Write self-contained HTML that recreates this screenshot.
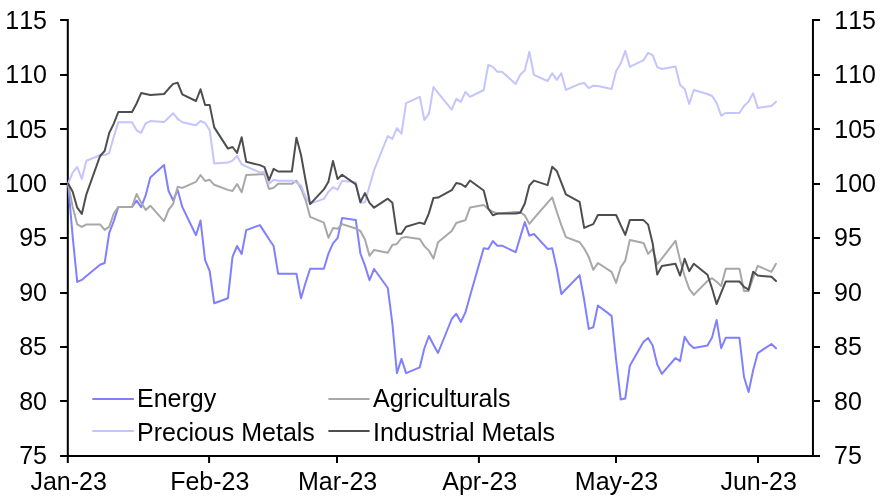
<!DOCTYPE html>
<html><head><meta charset="utf-8"><title>Commodity prices</title>
<style>
html,body{margin:0;padding:0;background:#fff;}
body{width:885px;height:498px;overflow:hidden;}
svg{display:block;}
text{font-family:"Liberation Sans",Arial,Helvetica,sans-serif;font-size:25px;fill:#000;font-kerning:none;}
.ln{fill:none;stroke-width:2;stroke-linejoin:round;stroke-linecap:butt;}
.dl{stroke-linecap:round;}
.ax{stroke:#000;stroke-width:2;fill:none;}
</style></head><body>
<svg width="885" height="498" viewBox="0 0 885 498">
<rect width="885" height="498" fill="#fff"/>
<path class="ax" d="M67.8,19 V463 M812.95,19 V457 M60.10,456 H820.05"/>
<path class="ax" d="M60.10,20 H67.8 M812.95,20 H820.05"/>
<text x="47" y="28.5" text-anchor="end">115</text>
<text x="834.3" y="28.5" text-anchor="start">115</text>
<path class="ax" d="M60.10,75 H67.8 M812.95,75 H820.05"/>
<text x="47" y="82.6" text-anchor="end">110</text>
<text x="834.3" y="82.6" text-anchor="start">110</text>
<path class="ax" d="M60.10,129 H67.8 M812.95,129 H820.05"/>
<text x="47" y="137.6" text-anchor="end">105</text>
<text x="834.3" y="137.6" text-anchor="start">105</text>
<path class="ax" d="M60.10,184 H67.8 M812.95,184 H820.05"/>
<text x="47" y="191.7" text-anchor="end">100</text>
<text x="834.3" y="191.7" text-anchor="start">100</text>
<path class="ax" d="M60.10,238 H67.8 M812.95,238 H820.05"/>
<text x="47" y="245.9" text-anchor="end">95</text>
<text x="834" y="245.9" text-anchor="start">95</text>
<path class="ax" d="M60.10,293 H67.8 M812.95,293 H820.05"/>
<text x="47" y="300.7" text-anchor="end">90</text>
<text x="834" y="300.7" text-anchor="start">90</text>
<path class="ax" d="M60.10,347 H67.8 M812.95,347 H820.05"/>
<text x="47" y="354.7" text-anchor="end">85</text>
<text x="834" y="354.7" text-anchor="start">85</text>
<path class="ax" d="M60.10,401 H67.8 M812.95,401 H820.05"/>
<text x="47" y="409.7" text-anchor="end">80</text>
<text x="834" y="409.7" text-anchor="start">80</text>
<text x="47" y="463.6" text-anchor="end">75</text>
<text x="834" y="463.6" text-anchor="start">75</text>
<text x="68.65" y="489.65" text-anchor="middle">Jan-23</text>
<path class="ax" d="M209.1,456 V463"/>
<text x="209.80" y="489.65" text-anchor="middle">Feb-23</text>
<path class="ax" d="M337.0,456 V463"/>
<text x="337.60" y="489.65" text-anchor="middle">Mar-23</text>
<path class="ax" d="M478.9,456 V463"/>
<text x="479.75" y="489.65" text-anchor="middle">Apr-23</text>
<path class="ax" d="M616.0,456 V463"/>
<text x="616.50" y="489.65" text-anchor="middle">May-23</text>
<path class="ax" d="M758.0,456 V463"/>
<text x="758.70" y="489.65" text-anchor="middle">Jun-23</text>
<polyline class="ln dl" stroke="#8080ff" points="68.10,183.5 72.67,236.7 77.23,281.9 81.80,279.9 86.37,276.1 100.07,264.8 104.64,263.0 109.20,233.1 113.77,221.1 118.34,206.9 132.04,206.9 136.60,200.7 141.17,207.2 145.74,195.1 150.31,177.6 164.01,165.0 168.57,191.0 173.14,200.2 177.71,190.1 182.28,206.9 195.98,235.2 200.54,220.5 205.11,260.2 209.68,271.0 214.24,303.3 227.94,298.2 232.51,256.8 237.08,246.0 241.65,254.0 246.21,230.1 259.91,225.1 264.48,232.1 269.05,239.3 273.62,246.0 278.18,273.8 291.88,273.8 296.45,273.8 301.02,298.2 305.58,282.7 310.15,268.8 323.85,268.8 328.42,253.6 332.99,243.4 337.55,238.2 342.12,218.1 355.82,220.1 360.39,253.5 364.96,265.6 369.52,280.2 374.09,269.0 387.79,288.0 392.36,323.4 396.92,373.1 401.49,358.9 406.06,373.1 419.76,367.3 424.33,348.5 428.89,336.0 433.46,344.8 438.03,353.0 451.73,319.0 456.29,313.7 460.86,322.0 465.43,312.4 470.00,296.0 483.70,248.2 488.26,249.1 492.83,241.0 497.40,245.7 501.97,245.7 515.67,252.2 520.23,237.1 524.80,222.1 529.37,235.6 533.93,234.0 547.63,248.9 552.20,248.2 556.77,268.5 561.34,294.0 565.90,289.3 579.60,275.1 584.17,299.8 588.74,328.9 593.31,327.3 597.87,305.5 611.57,315.9 616.14,360.1 620.71,399.4 625.27,398.5 629.84,365.7 643.54,341.8 648.11,337.9 652.68,345.6 657.24,364.5 661.81,373.9 675.51,358.0 680.08,361.1 684.65,336.8 689.21,344.0 693.78,348.0 707.48,345.6 712.05,337.6 716.61,320.0 721.18,348.2 725.75,337.8 739.45,337.8 744.02,377.0 748.58,392.0 753.15,370.2 757.72,353.2 771.42,344.0 775.99,348.2"/>
<polyline class="ln dl" stroke="#a8a8a8" points="68.10,183.5 72.67,206.9 77.23,224.4 81.80,226.9 86.37,224.4 100.07,224.4 104.64,229.9 109.20,226.9 113.77,213.5 118.34,206.9 132.04,206.9 136.60,194.0 141.17,202.7 145.74,209.9 150.31,205.7 164.01,221.1 168.57,209.9 173.14,203.8 177.71,186.8 182.28,187.9 195.98,181.8 200.54,175.0 205.11,181.0 209.68,179.8 214.24,184.8 227.94,189.9 232.51,191.0 237.08,184.0 241.65,192.2 246.21,175.1 259.91,174.3 264.48,174.3 269.05,189.0 273.62,187.7 278.18,183.8 291.88,183.8 296.45,180.7 301.02,188.5 305.58,200.2 310.15,216.8 323.85,222.6 328.42,237.7 332.99,228.1 337.55,228.8 342.12,224.1 355.82,228.5 360.39,231.0 364.96,239.4 369.52,255.8 374.09,249.9 387.79,252.8 392.36,244.9 396.92,243.9 401.49,238.0 406.06,236.9 419.76,239.0 424.33,246.1 428.89,250.6 433.46,258.6 438.03,242.2 451.73,231.0 456.29,223.0 460.86,221.5 465.43,220.1 470.00,207.6 483.70,205.0 488.26,208.9 492.83,211.8 497.40,213.5 501.97,213.3 515.67,212.0 520.23,212.1 524.80,215.4 529.37,223.8 533.93,218.4 547.63,202.7 552.20,197.4 556.77,211.7 561.34,225.1 565.90,237.1 579.60,242.2 584.17,248.5 588.74,256.9 593.31,269.9 597.87,263.0 611.57,271.8 616.14,282.8 620.71,267.3 625.27,260.6 629.84,239.9 643.54,243.0 648.11,253.9 652.68,248.9 657.24,264.4 661.81,258.6 675.51,240.9 680.08,260.2 684.65,276.0 689.21,288.9 693.78,294.9 707.48,281.0 712.05,278.2 716.61,281.8 721.18,286.0 725.75,268.8 739.45,268.8 744.02,291.0 748.58,291.0 753.15,277.6 757.72,265.9 771.42,271.8 775.99,263.8"/>
<polyline class="ln dl" stroke="#c4c4ff" points="68.10,183.5 72.67,172.6 77.23,167.0 81.80,178.9 86.37,160.7 100.07,155.3 104.64,155.0 109.20,153.1 113.77,136.7 118.34,122.2 132.04,122.2 136.60,130.3 141.17,132.8 145.74,123.3 150.31,121.1 164.01,122.1 168.57,117.7 173.14,113.2 177.71,118.9 182.28,122.2 195.98,125.3 200.54,121.0 205.11,123.0 209.68,130.2 214.24,163.5 227.94,162.6 232.51,160.6 237.08,156.0 241.65,164.3 246.21,166.4 259.91,172.6 264.48,171.8 269.05,183.8 273.62,179.8 278.18,180.7 291.88,180.7 296.45,182.7 301.02,185.7 305.58,196.9 310.15,203.6 323.85,198.9 328.42,191.9 332.99,187.2 337.55,189.7 342.12,180.7 355.82,182.2 360.39,202.8 364.96,202.3 369.52,186.1 374.09,170.2 387.79,136.0 392.36,138.9 396.92,128.1 401.49,133.6 406.06,103.2 419.76,96.8 424.33,119.9 428.89,113.9 433.46,87.1 438.03,92.8 451.73,109.7 456.29,98.8 460.86,101.8 465.43,91.8 470.00,96.8 483.70,90.0 488.26,64.9 492.83,66.8 497.40,71.8 501.97,71.8 515.67,83.9 520.23,74.7 524.80,70.2 529.37,51.8 533.93,74.8 547.63,81.0 552.20,73.2 556.77,79.9 561.34,73.2 565.90,89.9 579.60,83.9 584.17,83.0 588.74,88.1 593.31,85.7 597.87,86.1 611.57,88.9 616.14,71.0 620.71,63.5 625.27,50.9 629.84,66.8 643.54,60.1 648.11,52.9 652.68,55.1 657.24,67.1 661.81,69.0 675.51,66.5 680.08,84.9 684.65,88.9 689.21,104.0 693.78,90.0 707.48,94.0 712.05,96.0 716.61,102.9 721.18,115.7 725.75,113.0 739.45,113.0 744.02,106.0 748.58,101.6 753.15,93.2 757.72,107.9 771.42,106.0 775.99,101.8"/>
<polyline class="ln dl" stroke="#4e4e4e" points="68.10,183.5 72.67,191.8 77.23,207.7 81.80,213.9 86.37,194.3 100.07,156.0 104.64,151.0 109.20,133.0 113.77,123.6 118.34,112.0 132.04,112.0 136.60,103.5 141.17,93.1 145.74,94.1 150.31,95.0 164.01,94.0 168.57,88.8 173.14,83.9 177.71,82.8 182.28,94.3 195.98,101.0 200.54,89.3 205.11,105.0 209.68,105.1 214.24,127.4 227.94,148.6 232.51,147.0 237.08,152.9 241.65,137.2 246.21,161.8 259.91,165.1 264.48,167.1 269.05,180.2 273.62,168.9 278.18,171.5 291.88,171.5 296.45,137.7 301.02,155.0 305.58,180.2 310.15,204.1 323.85,189.4 328.42,181.8 332.99,160.9 337.55,179.0 342.12,174.8 355.82,184.4 360.39,202.3 364.96,193.1 369.52,202.9 374.09,207.7 387.79,198.7 392.36,202.7 396.92,233.8 401.49,233.8 406.06,226.8 419.76,222.6 424.33,224.0 428.89,213.4 433.46,197.9 438.03,197.6 451.73,190.2 456.29,183.0 460.86,184.0 465.43,186.9 470.00,180.5 483.70,190.5 488.26,208.5 492.83,215.3 497.40,213.6 501.97,213.6 515.67,213.6 520.23,212.8 524.80,203.5 529.37,185.5 533.93,180.6 547.63,185.1 552.20,166.7 556.77,170.9 561.34,182.6 565.90,194.3 579.60,201.8 584.17,227.9 588.74,225.9 593.31,224.1 597.87,215.0 611.57,215.0 616.14,215.0 620.71,225.1 625.27,234.9 629.84,220.1 643.54,220.1 648.11,224.6 652.68,243.4 657.24,274.6 661.81,266.0 675.51,263.8 680.08,275.6 684.65,258.8 689.21,271.1 693.78,263.8 707.48,274.8 712.05,288.5 716.61,304.1 721.18,292.7 725.75,281.5 739.45,281.5 744.02,286.9 748.58,289.6 753.15,271.8 757.72,275.6 771.42,276.8 775.99,281.0"/>
<path class="ln" stroke="#8080ff" d="M92.3,398.9 H133.9"/>
<text x="137" y="407.2">Energy</text>
<path class="ln" stroke="#c4c4ff" d="M92.3,431 H133.9"/>
<text x="137" y="440.6">Precious Metals</text>
<path class="ln" stroke="#a8a8a8" d="M328.4,398.9 H369.6"/>
<text x="373" y="407.2">Agriculturals</text>
<path class="ln" stroke="#4e4e4e" d="M328.4,431 H369.6"/>
<text x="373" y="440.6">Industrial Metals</text>
</svg>
</body></html>
